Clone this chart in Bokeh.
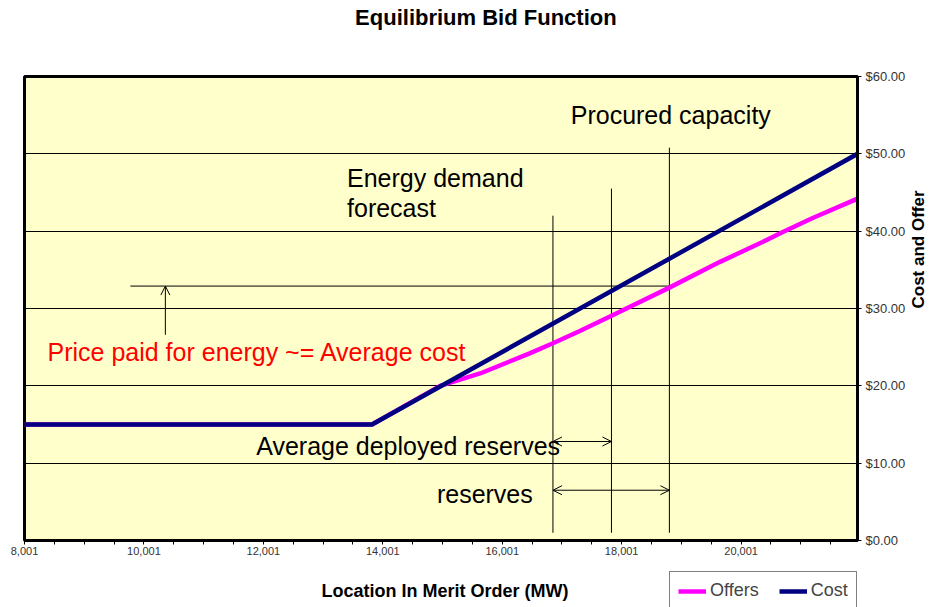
import math
from bokeh.plotting import figure
from bokeh.layouts import column
from bokeh.models import (Range1d, FixedTicker, NumeralTickFormatter, Label, Arrow, OpenHead,
                          Legend, LegendItem)
from bokeh.embed import file_html
from bokeh.resources import INLINE

# ---------------- data ----------------
cost_mw = [8001, 13820, 21950]
cost_price = [15.0, 15.0, 50.0]
offer_mw = [8001, 13820, 14960, 15630, 16460, 16850, 17300, 17840, 18800, 19640,
            20360, 20700, 21200, 21950]
offer_price = [15.0, 15.0, 20.0, 21.6, 24.2, 25.5, 27.1, 29.1, 32.7, 36.0,
               38.6, 39.9, 41.7, 44.2]

x_ticks = [8001, 10001, 12001, 14001, 16001, 18001, 20001]
x_minor_ticks = [8501, 9001, 9501, 10501, 11001, 11501, 12501, 13001, 13501,
                 14501, 15001, 15501, 16501, 17001, 17501, 18501, 19001, 19501,
                 20501, 21001, 21501]
y_ticks = [0, 10, 20, 30, 40, 50, 60]

# annotation markers: energy demand forecast, average deployed, procured capacity
marker_mw = [16850, 17830, 18800]
marker_top = [42.0, 45.5, 50.8]
marker_bottom = [1.0, 1.0, 1.0]
price_paid = 32.9
price_line_start_mw = 9774
price_arrow_mw = 10360
price_arrow_base = 26.6
avg_reserve_level = 12.8
reserve_level = 6.5

FONT = "Liberation Sans"
OFFER_COLOR = "#FF00FF"
COST_COLOR = "#000080"
X_RANGE = (8001, 21950)

def lab(fig, x, y, text, size, color="black", bold=False, align="left"):
    fig.add_layout(Label(x=x, y=y, text=text, text_font=FONT, text_font_size=size,
                         text_color=color, text_align=align, text_baseline="middle",
                         text_font_style="bold" if bold else "normal"))

# ---------------- title strip ----------------
p0 = figure(width=940, height=36, x_range=Range1d(*X_RANGE), y_range=Range1d(0, 36),
            x_axis_location=None, y_axis_location=None, title=None,
            output_backend="svg", toolbar_location=None, min_border=0,
            border_fill_color="white", background_fill_color="white", outline_line_color=None)
p0.grid.visible = False
lab(p0, 15727, 19, "Equilibrium Bid Function", "22px", bold=True, align="center")

# ---------------- main chart ----------------
p = figure(width=940, height=529,
           x_range=Range1d(*X_RANGE), y_range=Range1d(0, 60), title=None,
           y_axis_location="right", output_backend="svg", toolbar_location=None,
           min_border_left=24, min_border_right=82, min_border_top=40, min_border_bottom=25,
           background_fill_color="#FFFFCC", border_fill_color="white",
           outline_line_color="black", outline_line_width=3)

p.xaxis.ticker = FixedTicker(ticks=x_ticks, minor_ticks=x_minor_ticks)
p.xaxis.formatter = NumeralTickFormatter(format="0,0")
p.yaxis.ticker = FixedTicker(ticks=y_ticks)
p.yaxis.formatter = NumeralTickFormatter(format="$0.00")
for ax in (p.xaxis[0], p.yaxis[0]):
    ax.axis_line_color = "black"
    ax.axis_line_width = 3
    ax.major_tick_line_color = "black"
    ax.minor_tick_line_color = "black"
    ax.major_tick_in = 0
    ax.major_tick_out = 4
    ax.minor_tick_in = 0
    ax.minor_tick_out = 4
    ax.major_label_text_font = FONT
    ax.major_label_text_color = "#333333"
    ax.axis_label_text_font = FONT
    ax.axis_label_text_font_style = "bold"
    ax.axis_label_text_color = "black"
p.xaxis.major_label_text_font_size = "11px"
p.xaxis.major_label_standoff = 2

p.yaxis.major_label_text_font_size = "13px"
p.yaxis.major_label_standoff = 4
p.yaxis.minor_tick_line_color = None
p.yaxis.axis_label = "Cost and Offer"
p.yaxis.axis_label_text_font_size = "17px"
p.yaxis.axis_label_standoff = 10
yax = p.yaxis[0]
if "axis_label_orientation" in type(yax).properties():
    yax.axis_label_orientation = math.pi / 2

p.xgrid.grid_line_color = None
p.ygrid.grid_line_color = "black"
p.ygrid.grid_line_width = 1

p.segment(x0=marker_mw, y0=marker_bottom, x1=marker_mw, y1=marker_top,
          line_color="black", line_width=1)
p.segment(x0=[price_line_start_mw], y0=[price_paid], x1=[marker_mw[2]], y1=[price_paid],
          line_color="black", line_width=1)

p.line(offer_mw, offer_price, line_color=OFFER_COLOR, line_width=4.5)
p.line(cost_mw, cost_price, line_color=COST_COLOR, line_width=4.5)

p.add_layout(Arrow(end=OpenHead(size=9, line_width=1), x_start=price_arrow_mw, y_start=price_arrow_base,
                   x_end=price_arrow_mw, y_end=price_paid, line_width=1))
p.add_layout(Arrow(start=OpenHead(size=9, line_width=1), end=OpenHead(size=9, line_width=1),
                   x_start=marker_mw[0], y_start=avg_reserve_level,
                   x_end=marker_mw[1], y_end=avg_reserve_level, line_width=1))
p.add_layout(Arrow(start=OpenHead(size=9, line_width=1), end=OpenHead(size=9, line_width=1),
                   x_start=marker_mw[0], y_start=reserve_level,
                   x_end=marker_mw[2], y_end=reserve_level, line_width=1))

lab(p, 17148, 55.0, "Procured capacity", "25px")
lab(p, 13402, 46.9, "Energy demand", "25px")
lab(p, 13402, 43.0, "forecast", "25px")
lab(p, 8386, 24.35, "Price paid for energy ~= Average cost", "25px", color="#FF0000")
lab(p, 11881, 12.2, "Average deployed reserves", "25px")
lab(p, 14907, 5.96, "reserves", "25px")

# ---------------- bottom strip: axis title and legend ----------------
p2 = figure(width=940, height=42, x_range=Range1d(*X_RANGE), y_range=Range1d(0, 1),
            x_axis_location=None, y_axis_location=None, title=None,
            output_backend="svg", toolbar_location=None, min_border=0,
            border_fill_color="white", background_fill_color="white",
            outline_line_color=None)
p2.grid.visible = False
lab(p2, 15041, 0.40, "Location In Merit Order (MW)", "18px", bold=True, align="center")

# legend proxies (same series, outside this strip's visible range)
k_offer = p2.line(offer_mw, offer_price, line_color=OFFER_COLOR, line_width=4.5)
k_cost = p2.line(cost_mw, cost_price, line_color=COST_COLOR, line_width=4.5)
lg = Legend(items=[LegendItem(label="Offers", renderers=[k_offer]),
                   LegendItem(label="Cost", renderers=[k_cost])],
            location=(645, -3), orientation="horizontal")
lg.label_text_font = FONT
lg.label_text_font_size = "18px"
lg.border_line_color = "black"
lg.border_line_width = 1
lg.background_fill_color = "white"
lg.background_fill_alpha = 1
lg.padding = 8
lg.margin = 0
lg.spacing = 20
lg.glyph_width = 28
lg.glyph_height = 18
lg.label_height = 18
lg.label_standoff = 4
p2.add_layout(lg, "center")

open("out.html", "w").write(file_html(column(p0, p, p2, spacing=0), INLINE))
